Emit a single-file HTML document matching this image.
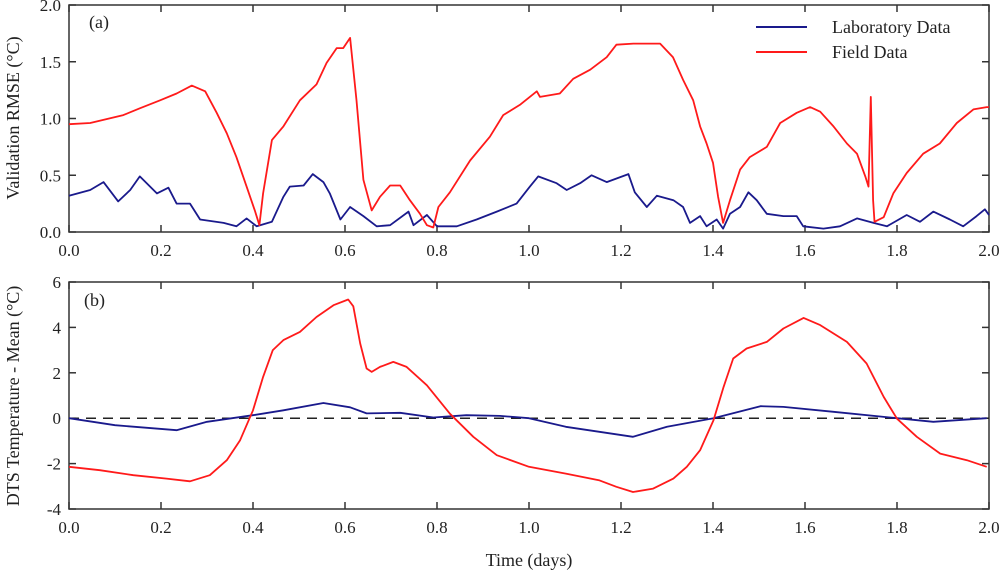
<!DOCTYPE html>
<html><head><meta charset="utf-8"><style>
html,body{margin:0;padding:0;background:#fff;}
svg{display:block;font-family:"Liberation Serif",serif;}
</style></head><body>
<svg id="chart" width="1000" height="572" viewBox="0 0 1000 572" xmlns="http://www.w3.org/2000/svg">
<text x="89" y="28" font-size="18" fill="#222">(a)</text>
<text x="84" y="306" font-size="18" fill="#222">(b)</text>
<text transform="translate(19,118) rotate(-90)" text-anchor="middle" font-size="18" fill="#222">Validation RMSE (°C)</text>
<text transform="translate(19,396) rotate(-90)" text-anchor="middle" font-size="18" fill="#222">DTS Temperature - Mean (°C)</text>
<text x="529" y="566" text-anchor="middle" font-size="18" fill="#222">Time (days)</text>
<g>
<line x1="756" y1="27" x2="807" y2="27" stroke="#1a1a8c" stroke-width="2"/>
<text x="832" y="33" font-size="18" fill="#222">Laboratory Data</text>
<line x1="756" y1="52" x2="807" y2="52" stroke="#ff1a1a" stroke-width="2"/>
<text x="832" y="58" font-size="18" fill="#222">Field Data</text>
</g>
</svg>
<script>
const topFieldT=[0,0.046,0.118,0.154,0.198,0.234,0.267,0.296,0.321,0.343,0.364,0.386,0.404,0.414,0.422,0.441,0.466,0.502,0.538,0.56,0.582,0.596,0.611,0.625,0.64,0.658,0.676,0.698,0.72,0.741,0.763,0.778,0.792,0.803,0.828,0.872,0.915,0.944,0.98,1.017,1.024,1.067,1.096,1.133,1.169,1.19,1.227,1.263,1.285,1.313,1.335,1.357,1.372,1.386,1.40,1.411,1.422,1.437,1.459,1.48,1.517,1.546,1.582,1.611,1.633,1.662,1.691,1.713,1.731,1.738,1.743,1.748,1.751,1.771,1.792,1.821,1.857,1.893,1.93,1.966,1.995,2.0];
const topFieldV=[0.95,0.96,1.03,1.09,1.16,1.22,1.29,1.24,1.05,0.87,0.66,0.40,0.19,0.06,0.34,0.81,0.93,1.16,1.30,1.49,1.62,1.62,1.71,1.16,0.46,0.19,0.31,0.41,0.41,0.28,0.16,0.06,0.04,0.22,0.35,0.63,0.84,1.03,1.12,1.24,1.19,1.22,1.35,1.43,1.54,1.65,1.66,1.66,1.66,1.54,1.34,1.16,0.93,0.78,0.61,0.31,0.08,0.28,0.55,0.66,0.75,0.96,1.05,1.10,1.06,0.93,0.78,0.69,0.49,0.40,1.19,0.28,0.09,0.13,0.34,0.52,0.69,0.78,0.96,1.08,1.10,1.10];
const topLabT=[0,0.046,0.075,0.107,0.133,0.154,0.191,0.216,0.234,0.263,0.285,0.336,0.364,0.386,0.408,0.441,0.466,0.48,0.51,0.53,0.553,0.567,0.59,0.611,0.64,0.669,0.698,0.738,0.749,0.778,0.8,0.843,0.886,0.93,0.973,1.002,1.02,1.06,1.082,1.111,1.136,1.169,1.216,1.23,1.256,1.278,1.314,1.335,1.35,1.372,1.386,1.408,1.422,1.437,1.459,1.477,1.495,1.517,1.553,1.582,1.596,1.64,1.676,1.713,1.749,1.778,1.821,1.85,1.879,1.915,1.944,1.973,1.991,2.0];
const topLabV=[0.32,0.37,0.44,0.27,0.37,0.49,0.34,0.39,0.25,0.25,0.11,0.08,0.05,0.12,0.05,0.09,0.31,0.40,0.41,0.51,0.44,0.34,0.11,0.22,0.14,0.05,0.06,0.18,0.06,0.15,0.05,0.05,0.11,0.18,0.25,0.40,0.49,0.43,0.37,0.43,0.50,0.44,0.51,0.35,0.22,0.32,0.28,0.22,0.08,0.14,0.05,0.11,0.03,0.16,0.22,0.35,0.28,0.16,0.14,0.14,0.05,0.03,0.05,0.12,0.08,0.05,0.15,0.09,0.18,0.11,0.05,0.14,0.20,0.15];
const botFieldT=[0,0.067,0.14,0.212,0.263,0.306,0.343,0.372,0.4,0.422,0.443,0.466,0.502,0.538,0.575,0.607,0.618,0.633,0.647,0.658,0.676,0.705,0.734,0.778,0.828,0.879,0.93,1.0,1.08,1.152,1.19,1.226,1.27,1.314,1.343,1.372,1.401,1.423,1.444,1.473,1.517,1.553,1.597,1.633,1.691,1.734,1.771,1.8,1.843,1.894,1.952,1.995];
const botFieldV=[-2.14,-2.29,-2.51,-2.66,-2.78,-2.51,-1.85,-0.97,0.35,1.82,3.0,3.44,3.8,4.46,4.98,5.23,4.93,3.29,2.19,2.04,2.26,2.48,2.26,1.45,0.2,-0.82,-1.63,-2.14,-2.44,-2.73,-3.02,-3.25,-3.1,-2.66,-2.14,-1.41,-0.09,1.38,2.63,3.07,3.36,3.95,4.42,4.1,3.36,2.41,0.94,-0.02,-0.82,-1.56,-1.85,-2.14];
const botLabT=[0,0.1,0.234,0.3,0.4,0.466,0.553,0.611,0.647,0.72,0.792,0.864,0.937,1.0,1.08,1.226,1.3,1.401,1.503,1.553,1.662,1.8,1.879,1.995];
const botLabV=[0,-0.31,-0.53,-0.16,0.13,0.35,0.67,0.48,0.21,0.24,0.03,0.13,0.1,0.0,-0.38,-0.82,-0.38,0,0.53,0.5,0.28,0,-0.16,0];
const xTicks=[0,0.2,0.4,0.6,0.8,1.0,1.2,1.4,1.6,1.8,2.0];
const topYTicks=[0,0.5,1.0,1.5,2.0];
const botYTicks=[-4,-2,0,2,4,6];

const NS='http://www.w3.org/2000/svg';
const svg=document.getElementById('chart');
const L=69,R=989;
const xs=d=>L+(R-L)*d/2;
const topY=v=>232-(232-5)*v/2;
const botY=v=>509-(509-282)*(v+4)/10;
function mk(tag,attrs){const e=document.createElementNS(NS,tag);for(const k in attrs)e.setAttribute(k,attrs[k]);svg.appendChild(e);return e;}
function panel(name,yf,yt,ytFmt,y0,y1){
  const f=mk('rect',{x:L,y:y0,width:R-L,height:y1-y0,fill:'none',stroke:'#333','stroke-width':1.5});
  
  
  xTicks.forEach(t=>{
    const x=xs(t);
    const a=mk('line',{x1:x,y1:y1,x2:x,y2:y1-7,stroke:'#333','stroke-width':1.5});
    
    
    const b=mk('line',{x1:x,y1:y0,x2:x,y2:y0+7,stroke:'#333','stroke-width':1.5});
    
    
    const tx=mk('text',{x:x,y:y1+24,'text-anchor':'middle','font-size':17,fill:'#222'});
    tx.textContent=t.toFixed(1);
    
    
  });
  yt.forEach(t=>{
    const y=yf(t);
    const a=mk('line',{x1:L,y1:y,x2:L+7,y2:y,stroke:'#333','stroke-width':1.5});
    
    
    const b=mk('line',{x1:R,y1:y,x2:R-7,y2:y,stroke:'#333','stroke-width':1.5});
    
    
    const tx=mk('text',{x:L-8,y:y+6,'text-anchor':'end','font-size':17,fill:'#222'});
    tx.textContent=ytFmt(t);
    
    
  });
}
function series(name,T,V,yf,color){
  const p=mk('polyline',{points:T.map((t,i)=>xs(t).toFixed(1)+','+yf(V[i]).toFixed(1)).join(' '),fill:'none',stroke:color,'stroke-width':1.8,'stroke-linejoin':'round'});
  
  
}
panel('top-panel',topY,topYTicks,t=>t.toFixed(1),5,232);
panel('bottom-panel',botY,botYTicks,t=>String(t),282,509);
const z=mk('line',{x1:L,y1:botY(0),x2:R,y2:botY(0),stroke:'#222','stroke-width':1.5,'stroke-dasharray':'10,7'});


series('top-lab-series',topLabT,topLabV,topY,'#1a1a8c');
series('top-field-series',topFieldT,topFieldV,topY,'#ff1a1a');
series('bottom-lab-series',botLabT,botLabV,botY,'#1a1a8c');
series('bottom-field-series',botFieldT,botFieldV,botY,'#ff1a1a');
</script>
</body></html>
